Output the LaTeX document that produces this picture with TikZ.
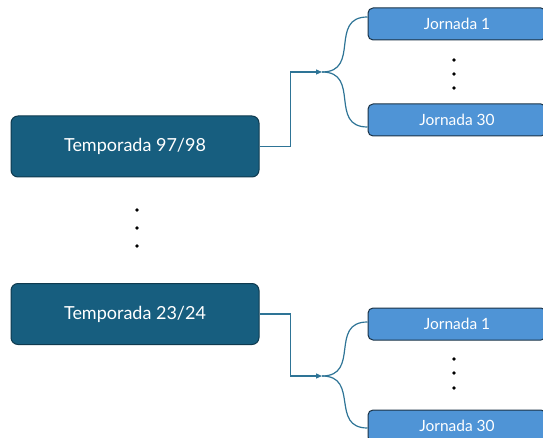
\documentclass[tikz,border=0pt]{standalone}
\usepackage{fontspec}
\setmainfont{Lato}
\usetikzlibrary{arrows.meta}
\definecolor{tempfill}{HTML}{175E7F}
\definecolor{tempborder}{HTML}{0F3A4F}
\definecolor{jornfill}{HTML}{4F94D6}
\definecolor{jornborder}{HTML}{1B3347}
\definecolor{enlacecol}{HTML}{2E7496}
\tikzset{
  temporada/.style={draw=tempborder, fill=tempfill, rounded corners=7pt, line width=1pt,
    minimum width=248pt, minimum height=61pt, text=white, font=\fontsize{18}{20}\selectfont},
  jornada/.style={draw=jornborder, fill=jornfill, rounded corners=5pt, line width=1pt,
    minimum width=178pt, minimum height=32pt, text=white, font=\fontsize{15.5}{17}\selectfont},
  enlace/.style={draw=enlacecol, line width=1.2pt},
  flecha/.style={-{Triangle[length=6pt,width=5pt]}}
}
\begin{document}
\begin{tikzpicture}[x=1pt,y=-1pt]
  \useasboundingbox (0,0) rectangle (543,438);
  % temporadas
  \node[temporada] (t1) at (135,146.5) {Temporada 97/98};
  \node[temporada] (t2) at (135,314) {Temporada 23/24};
  \fill (137,210) circle (1.8pt);
  \fill (137,228) circle (1.8pt);
  \fill (137,246) circle (1.8pt);
  % jornadas
  \node[jornada] (j1a) at (457,24) {Jornada 1};
  \node[jornada] (j30a) at (457,120) {Jornada 30};
  \node[jornada] (j1b) at (457,324) {Jornada 1};
  \node[jornada] (j30b) at (457,426) {Jornada 30};
  \fill (454,60) circle (1.8pt);
  \fill (454,74) circle (1.8pt);
  \fill (454,88) circle (1.8pt);
  \fill (454,359) circle (1.8pt);
  \fill (454,373) circle (1.8pt);
  \fill (454,388) circle (1.8pt);
  % enlaces
  \coordinate (ra) at (322,72);
  \coordinate (rb) at (322,376);
  \draw[enlace,flecha] (t1.east) -- ++(31,0) |- (ra);
  \draw[enlace,flecha] (t2.east) -- ++(31,0) |- (rb);
  \draw[enlace] (ra) to[out=0,in=180,looseness=1.4] ([yshift=7pt]j1a.west);
  \draw[enlace] (ra) to[out=0,in=180,looseness=1.4] ([yshift=-7pt]j30a.west);
  \draw[enlace] (rb) to[out=0,in=180,looseness=1.4] ([yshift=2pt]j1b.west);
  \draw[enlace] (rb) to[out=0,in=180,looseness=1.4] ([yshift=-2pt]j30b.west);
\end{tikzpicture}
\end{document}
